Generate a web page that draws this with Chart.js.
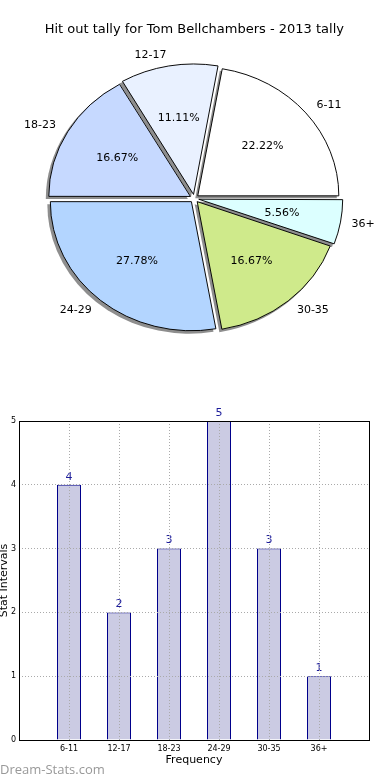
<!DOCTYPE html>
<html>
<head>
<meta charset="utf-8">
<script src="https://cdn.jsdelivr.net/npm/chart.js@4.4.0/dist/chart.umd.min.js"></script>
<style>
  html, body { margin: 0; padding: 0; background: #fff; }
  #page { position: relative; width: 390px; height: 780px; overflow: hidden; }
  #pieBox { position: absolute; left: 0; top: 0; width: 390px; height: 400px; }
  #barBox { position: absolute; left: 0; top: 400px; width: 390px; height: 380px; }
  #mark { position: absolute; left: 0; top: 760px; font: 13px "Open Sans", sans-serif; color: #999; }
</style>
</head>
<body>
<div id="page">
  <div id="pieBox"><canvas id="tallyPie"></canvas></div>
  <div id="barBox"><canvas id="tallyBars"></canvas></div>
  <div id="mark">Dream-Stats.com</div>
</div>
<script>
const categories = ["6-11", "12-17", "18-23", "24-29", "30-35", "36+"];
const tallies = [4, 2, 3, 5, 3, 1];
const yMax = 5;

const sliceColors = ["#ffffff", "#e9f1ff", "#c6d9ff", "#b3d5ff", "#cfea8b", "#dcffff"];
const squash = 129 / 141; // the original pie is a little flattened

Chart.defaults.font.family = "'DejaVu Sans', sans-serif";
Chart.defaults.color = "#000";

const pieTotal = tallies.reduce((a, b) => a + b, 0);

// matplotlib goes counter-clockwise from 3 o'clock, chart.js goes clockwise,
// so hand the slices over in reverse order
const pieLabels = categories.slice().reverse();
const pieValues = tallies.slice().reverse();
const pieColors = sliceColors.slice().reverse();

const pieDecor = {
  id: "pieDecor",
  beforeDatasetsDraw(chart) {
    const ctx = chart.ctx;
    const arcs = chart.getDatasetMeta(0).data;
    const cx = arcs[0].x, cy = arcs[0].y;
    ctx.save();
    ctx.translate(cx, cy);
    ctx.scale(1, squash);
    ctx.translate(-cx, -cy);
    // shadows
    ctx.fillStyle = "#8e8e8e";
    arcs.forEach((arc) => {
      const mid = (arc.startAngle + arc.endAngle) / 2;
      const off = arc.options.offset / 4;
      const fix = 1 - Math.sin(Math.min(Math.PI, arc.circumference));
      const r = arc.outerRadius + off * fix + 0.5;
      const sx = arc.x + Math.cos(mid) * off - 2.5;
      const sy = arc.y + Math.sin(mid) * off + 2.5 / squash;
      ctx.beginPath();
      ctx.moveTo(sx, sy);
      ctx.arc(sx, sy, r, arc.startAngle, arc.endAngle);
      ctx.closePath();
      ctx.fill();
    });
  },
  afterDatasetsDraw(chart) {
    const ctx = chart.ctx;
    ctx.restore();
    const arcs = chart.getDatasetMeta(0).data;
    ctx.save();
    ctx.fillStyle = "#000";
    ctx.font = "11px 'DejaVu Sans'";
    ctx.textBaseline = "middle";
    arcs.forEach((arc, i) => {
      const mid = (arc.startAngle + arc.endAngle) / 2;
      const off = arc.options.offset / 4;
      const c = Math.cos(mid), s = Math.sin(mid);
      const ex = arc.x + c * off, ey = arc.y + s * off * squash;
      const rx = arc.outerRadius, ry = rx * squash;
      ctx.textAlign = c > 0 ? "left" : "right";
      ctx.fillText(chart.data.labels[i], ex + 1.1 * rx * c, ey + 1.1 * ry * s);
      ctx.textAlign = "center";
      const pct = (pieValues[i] / pieTotal * 100).toFixed(2) + "%";
      ctx.fillText(pct, ex + 0.6 * rx * c, ey + 0.6 * ry * s);
    });
    ctx.restore();
  }
};

new Chart(document.getElementById("tallyPie"), {
  type: "pie",
  data: {
    labels: pieLabels,
    datasets: [{
      data: pieValues,
      backgroundColor: pieColors,
      borderColor: "#000",
      borderWidth: 1,
      offset: 18,
      clip: false
    }]
  },
  options: {
    responsive: true,
    maintainAspectRatio: false,
    animation: false,
    rotation: 90,
    radius: 141,
    layout: { padding: { left: 42, right: 43.4, top: 0, bottom: 48.4 } },
    plugins: {
      legend: { display: false },
      tooltip: { enabled: false },
      title: {
        display: true,
        text: "Hit out tally for Tom Bellchambers - 2013 tally",
        font: { size: 13, weight: "normal" },
        color: "#000",
        padding: { top: 22.2, bottom: 7.6 }
      }
    }
  },
  plugins: [pieDecor]
});

const barDecor = {
  id: "barDecor",
  afterDatasetsDraw(chart) {
    const ctx = chart.ctx;
    ctx.save();
    ctx.fillStyle = "#1c1c9a";
    ctx.font = "11px 'DejaVu Sans'";
    ctx.textAlign = "center";
    ctx.textBaseline = "middle";
    chart.getDatasetMeta(0).data.forEach((bar, i) => {
      ctx.fillText(String(tallies[i]), bar.x, bar.y - 8);
    });
    ctx.restore();
  },
  afterDraw(chart) {
    const a = chart.chartArea;
    const ctx = chart.ctx;
    ctx.save();
    ctx.strokeStyle = "#000";
    ctx.lineWidth = 1;
    ctx.strokeRect(a.left + 0.5, a.top + 0.5, a.right - a.left, a.bottom - a.top);
    ctx.restore();
  }
};

new Chart(document.getElementById("tallyBars"), {
  type: "bar",
  data: {
    datasets: [{
      data: categories.map((c, i) => ({ x: i + 1, y: tallies[i] })),
      backgroundColor: "#cbcbe3",
      borderColor: "#00008b",
      borderWidth: 1,
      inflateAmount: 0,
      barPercentage: 0.48,
      categoryPercentage: 1
    }]
  },
  options: {
    responsive: true,
    maintainAspectRatio: false,
    animation: false,
    layout: { padding: { left: 0, right: 21, top: 21, bottom: 0 } },
    plugins: {
      legend: { display: false },
      tooltip: { enabled: false }
    },
    scales: {
      x: {
        type: "linear",
        offset: false,
        min: 0,
        max: categories.length + 1,
        afterFit: (scale) => { scale.height = 40; },
        ticks: {
          stepSize: 1,
          autoSkip: false,
          maxRotation: 0,
          padding: 4,
          font: { size: 8 },
          color: "#000",
          callback: (v) => categories[v - 1] || ""
        },
        grid: { offset: false, drawTicks: false, color: "#aaaaaa", z: 1 },
        border: { display: false, dash: [1, 2] },
        title: {
          display: true,
          text: "Frequency",
          font: { size: 11 },
          color: "#000",
          padding: { top: 0, bottom: 13 }
        }
      },
      y: {
        min: 0,
        max: yMax,
        afterFit: (scale) => { scale.width = 19; },
        ticks: { stepSize: 1, padding: 3, font: { size: 8 }, color: "#000" },
        grid: { drawTicks: false, color: "#aaaaaa", z: 1 },
        border: { display: false, dash: [1, 2] },
        title: {
          display: true,
          text: "Stat Intervals",
          font: { size: 11, lineHeight: 0.8 },
          color: "#000",
          padding: 0
        }
      }
    }
  },
  plugins: [barDecor]
});
</script>
</body>
</html>
